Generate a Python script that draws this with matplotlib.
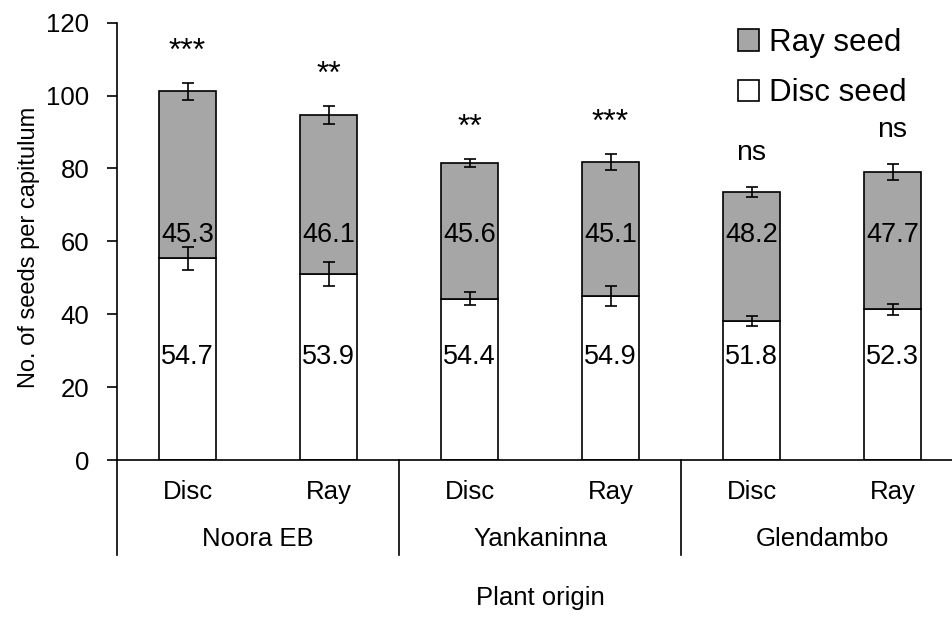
import numpy as np
import matplotlib.pyplot as plt
from matplotlib.lines import Line2D

plt.rcParams['font.family'] = ['Liberation Sans', 'DejaVu Sans']

# data
groups = ['Noora EB', 'Yankaninna', 'Glendambo']
plant_type = ['Disc', 'Ray', 'Disc', 'Ray', 'Disc', 'Ray']
disc_seed = [55.3, 51.0, 44.3, 45.0, 38.1, 41.3]
disc_err = [3.1, 3.3, 1.7, 2.8, 1.4, 1.5]
ray_seed = [45.9, 43.7, 37.2, 36.8, 35.5, 37.8]
total_err = [2.3, 2.4, 1.0, 2.1, 1.3, 2.2]
disc_pct = ['54.7', '53.9', '54.4', '54.9', '51.8', '52.3']
ray_pct = ['45.3', '46.1', '45.6', '45.1', '48.2', '47.7']
signif = ['***', '**', '**', '***', 'ns', 'ns']

W, H = 952, 626
fig = plt.figure(figsize=(W / 100, H / 100), dpi=100)
x0, x1, y0, y1 = 117, 963, 460, 22.7
ax = fig.add_axes([x0 / W, 1 - y0 / H, (x1 - x0) / W, (y0 - y1) / H])

x = np.arange(len(disc_seed))
disc_seed = np.array(disc_seed)
ray_seed = np.array(ray_seed)
total = disc_seed + ray_seed

lw = 1.2
ax.bar(x, disc_seed, width=0.4, color='white', edgecolor='black', linewidth=lw,
       label='Disc seed', zorder=2)
ax.bar(x, ray_seed, width=0.4, bottom=disc_seed, color='#a6a6a6', edgecolor='black',
       linewidth=lw, label='Ray seed', zorder=2)
ax.errorbar(x, disc_seed, yerr=disc_err, fmt='none', ecolor='black', elinewidth=lw,
            capsize=4, capthick=lw, zorder=3)
ax.errorbar(x, total, yerr=total_err, fmt='none', ecolor='black', elinewidth=lw,
            capsize=4, capthick=lw, zorder=3)

for i in range(len(x)):
    ax.text(x[i], 59.8, ray_pct[i], ha='center', va='baseline', fontsize=19.5, zorder=4)
    ax.text(x[i], 26.3, disc_pct[i], ha='center', va='baseline', fontsize=19.5, zorder=4)
    star = signif[i] != 'ns'
    ax.text(x[i], total[i] + total_err[i] + (6.3 if star else 7.3), signif[i],
            ha='center', va='baseline', fontsize=23 if star else 20.5)

ax.set_xlim(-0.5, 5.5)
ax.set_ylim(0, 120)
ax.set_yticks(np.arange(0, 121, 20))
ax.tick_params(axis='y', direction='out', length=7, width=lw, pad=13, labelsize=18.5)
ax.set_xticks([])
for s in ['top', 'right']:
    ax.spines[s].set_visible(False)
for s in ['left', 'bottom']:
    ax.spines[s].set_linewidth(lw)

# category axis: type labels, group labels and separators
trans = ax.get_xaxis_transform()
sep_bottom = -(555 - y0) / (y0 - y1)
for xs in [-0.5, 1.5, 3.5, 5.5]:
    ax.add_line(Line2D([xs, xs], [0, sep_bottom], transform=trans, color='black',
                       linewidth=lw, clip_on=False))
for i, t in enumerate(plant_type):
    ax.text(x[i], -(491.7 - y0) / (y0 - y1), t, transform=trans, ha='center',
            va='center', fontsize=18.5)
for g, name in enumerate(groups):
    ax.text(2 * g + 0.5, -(539 - y0) / (y0 - y1), name, transform=trans, ha='center',
            va='center', fontsize=18.5)
ax.text(2.5, -(598 - y0) / (y0 - y1), 'Plant origin', transform=trans, ha='center',
        va='center', fontsize=18.5)

fig.text(29 / W, 1 - 247 / H, 'No. of seeds per capitulum', rotation=90,
         ha='center', va='center', fontsize=17)

handles, labels = ax.get_legend_handles_labels()
ax.legend(handles[::-1], labels[::-1], loc='upper left',
          bbox_to_anchor=(738 / W, 1 - 28 / H), bbox_transform=fig.transFigure,
          frameon=False, fontsize=22.5, handlelength=0.67, handleheight=0.67,
          handletextpad=0.32, labelspacing=0.65, borderpad=0, borderaxespad=0)

fig.savefig('out.png', dpi=100)
